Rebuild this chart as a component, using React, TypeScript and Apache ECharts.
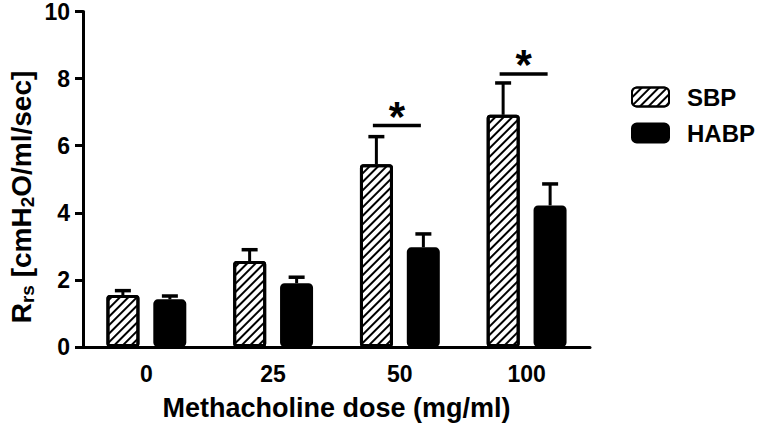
import React, { useEffect, useRef } from "react";
import * as echarts from "echarts";

const categories = ["0", "25", "50", "100"];
const seriesNames = ["SBP", "HABP"];
const sbpValues = [1.55, 2.56, 5.45, 6.92];
const sbpErrors = [0.13, 0.34, 0.82, 0.95];
const habpValues = [1.42, 1.9, 2.97, 4.22];
const habpErrors = [0.1, 0.18, 0.4, 0.64];
const yTicks = [0, 2, 4, 6, 8, 10];
const sigCategories = ["50", "100"];
const sigLevels = [6.6, 8.14];
const xTitle = "Methacholine dose (mg/ml)";

const FONT = "'Liberation Sans', Arial, Helvetica, sans-serif";
const BAR_OFFSET = 23.5;

function errorSeries(values: number[], errors: number[], offset: number) {
  return {
    type: "custom",
    silent: true,
    z: 5,
    data: values.map((v, i) => [i, v, v + errors[i]]),
    renderItem: (params: any, api: any) => {
      const base = api.coord([api.value(0), api.value(1)]);
      const top = api.coord([api.value(0), api.value(2)]);
      const x = base[0] + offset;
      return {
        type: "group",
        children: [
          {
            type: "line",
            shape: { x1: x, y1: base[1], x2: x, y2: top[1] },
            style: { stroke: "#000", lineWidth: 3 },
          },
          {
            type: "line",
            shape: { x1: x - 8, y1: top[1], x2: x + 8, y2: top[1] },
            style: { stroke: "#000", lineWidth: 3.5 },
          },
        ],
      };
    },
  };
}

export default function App() {
  const ref = useRef<HTMLDivElement>(null);
  useEffect(() => {
    if (!ref.current) return;
    const chart = echarts.init(ref.current, undefined, { renderer: "svg" });
    const option: any = {
      animation: false,
      textStyle: { fontFamily: FONT },
      grid: { left: 83, right: 170, top: 9, bottom: 84, containLabel: false },
      legend: {
        data: seriesNames,
        orient: "vertical",
        left: 626,
        top: 80,
        itemWidth: 37,
        itemHeight: 19,
        itemGap: 12,
        icon: "roundRect",
        textStyle: {
          fontFamily: FONT,
          fontSize: 24,
          fontWeight: "bold",
          color: "#000",
          lineHeight: 24,
          padding: [0, 0, 0, 13],
        },
      },
      xAxis: {
        type: "category",
        data: categories,
        name: xTitle,
        nameLocation: "middle",
        nameGap: 47,
        nameTextStyle: { fontFamily: FONT, fontSize: 27, fontWeight: "bold", color: "#000" },
        axisLine: { lineStyle: { color: "#000", width: 3 } },
        axisTick: { alignWithLabel: true, length: 8, lineStyle: { color: "#000", width: 3 } },
        axisLabel: { fontFamily: FONT, fontSize: 23, fontWeight: "bold", color: "#000", margin: 15 },
      },
      yAxis: {
        type: "value",
        min: yTicks[0],
        max: yTicks[yTicks.length - 1],
        interval: yTicks[1] - yTicks[0],
        splitLine: { show: false },
        axisLine: { show: true, lineStyle: { color: "#000", width: 3 } },
        axisTick: { show: true, length: 8, lineStyle: { color: "#000", width: 3 } },
        axisLabel: { fontFamily: FONT, fontSize: 23, fontWeight: "bold", color: "#000", margin: 13 },
      },
      graphic: [
        {
          type: "text",
          x: 21,
          y: 197,
          rotation: Math.PI / 2,
          style: {
            text: "{a|R}{s|rs}{a| [cmH}{s|2}{a|O/ml/sec]}",
            align: "center",
            verticalAlign: "middle",
            fill: "#000",
            rich: {
              a: { fontFamily: FONT, fontSize: 28, fontWeight: "bold", fill: "#000", lineHeight: 32, verticalAlign: "middle" },
              s: { fontFamily: FONT, fontSize: 19, fontWeight: "bold", fill: "#000", lineHeight: 18, verticalAlign: "bottom" },
            },
          },
        },
      ],
      series: [
        {
          name: seriesNames[0],
          type: "bar",
          data: sbpValues,
          barWidth: 33,
          barGap: "42%",
          z: 3,
          itemStyle: {
            color: "#fff",
            borderColor: "#000",
            borderWidth: 3,
            borderRadius: 2,
            decal: {
              symbol: "rect",
              symbolSize: 1,
              color: "#000",
              dashArrayX: [1, 0],
              dashArrayY: [1.7, 3.3],
              rotation: -Math.PI / 4,
            },
          },
        },
        {
          name: seriesNames[1],
          type: "bar",
          data: habpValues,
          barWidth: 33,
          z: 3,
          itemStyle: { color: "#000", borderColor: "#000", borderWidth: 3, borderRadius: 3 },
        },
        errorSeries(sbpValues, sbpErrors, -BAR_OFFSET),
        errorSeries(habpValues, habpErrors, BAR_OFFSET),
        {
          type: "custom",
          silent: true,
          z: 6,
          data: sigCategories.map((c, i) => [categories.indexOf(c), sigLevels[i]]),
          renderItem: (params: any, api: any) => {
            const p = api.coord([api.value(0), api.value(1)]);
            return {
              type: "group",
              children: [
                {
                  type: "line",
                  shape: { x1: p[0] - 27, y1: p[1], x2: p[0] + 21, y2: p[1] },
                  style: { stroke: "#000", lineWidth: 3.5 },
                },
                {
                  type: "text",
                  x: p[0] - 3,
                  y: p[1] - 9,
                  style: {
                    text: "*",
                    fontFamily: FONT,
                    fontSize: 42,
                    fontWeight: "bold",
                    fill: "#000",
                    align: "center",
                    verticalAlign: "middle",
                  },
                },
              ],
            };
          },
        },
      ],
    };
    chart.setOption(option);
    return () => chart.dispose();
  }, []);
  return (
    <div
      ref={ref}
      style={{ position: "absolute", left: 0, top: 0, width: 760, height: 431 }}
    />
  );
}
